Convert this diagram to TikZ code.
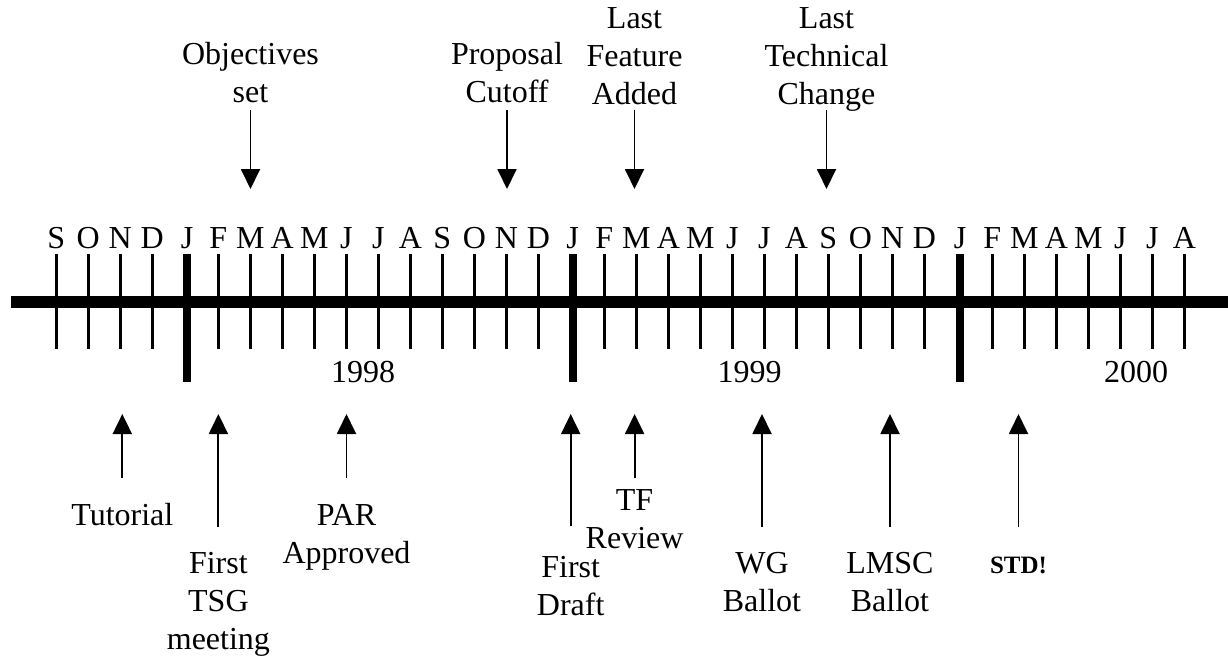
\documentclass[tikz,border=0pt]{standalone}
\usepackage{fontspec}
\setmainfont{Liberation Serif}
\usepackage{xcolor}
\usepackage{tikz}
\usetikzlibrary{arrows.meta, positioning}
\newcommand{\upstrut}{\rule{0pt}{24pt}}
\newcommand{\dnstrut}{\rule[-7pt]{0pt}{7pt}}

\begin{document}
\begin{tikzpicture}[
    x=1pt, y=-1pt,
    txt/.style={font=\fontsize{32}{38}\selectfont, align=center, inner sep=0pt},
    monthtick/.style={line width=3pt},
    yeartick/.style={line width=8pt},
    arrow/.style={-{Triangle[length=20pt, width=19pt]}, line width=1.9pt}
]
    \useasboundingbox (0,0) rectangle (1228,658);

    % Time axis
    \draw[line width=11.5pt] (11,302) -- (1228,302);
    \foreach \xx/\mm [count=\i] in {56.3/S, 88.3/O, 120.3/N, 152.3/D, 187/J, 218.3/F,
        250.3/M, 282.3/A, 314.3/M, 346.3/J, 378.3/J, 410.3/A, 442.3/S, 474.3/O,
        506.3/N, 538.3/D, 572.7/J, 604.3/F, 636.3/M, 668.3/A, 700.3/M, 732.3/J,
        764.3/J, 796.3/A, 828.3/S, 860.3/O, 892.3/N, 924.3/D, 960/J, 992.3/F,
        1024.3/M, 1056.3/A, 1088.3/M, 1120.3/J, 1152.3/J, 1184.3/A} {
        \draw[monthtick] (\xx,254) -- (\xx,349);
        \node[txt, anchor=base] (mon\i) at (\xx,248) {\mm};
    }
    \foreach \xx in {187, 572.7, 960}
        \draw[yeartick] (\xx,254) -- (\xx,382);

    % Years
    \node[txt, anchor=base] (y1998) at (363,382) {1998};
    \node[txt, anchor=base] (y1999) at (749.5,382) {1999};
    \node[txt, anchor=base] (y2000) at (1136,382) {2000};

    % Milestones above the axis
    \node[txt, anchor=south] (objset) at (250.5,110) {Objectives\\set\dnstrut};
    \node[txt, anchor=south] (cutoff) at (507,110) {Proposal\\Cutoff\dnstrut};
    \node[txt, anchor=south] (feature) at (634.5,112) {Last\\Feature\\Added\dnstrut};
    \node[txt, anchor=south] (techchg) at (826.5,112) {Last\\Technical\\Change\dnstrut};

    \coordinate (objtip) at (250.5,189);
    \coordinate (cutofftip) at (507,189);
    \coordinate (featuretip) at (634.5,189);
    \coordinate (techchgtip) at (826.5,189);

    % Milestones below the axis
    \node[txt, anchor=north] (tutorial) at (122.3,501) {\upstrut Tutorial};
    \node[txt, anchor=north] (firsttsg) at (218.4,549) {\upstrut First\\TSG\\meeting};
    \node[txt, anchor=north] (parok) at (346.5,501) {\upstrut PAR\\Approved};
    \node[txt, anchor=north] (draft) at (570.7,553) {\upstrut First\\Draft};
    \node[txt, anchor=north] (tfreview) at (634.6,486) {\upstrut TF\\Review};
    \node[txt, anchor=north] (wgballot) at (762,549) {\upstrut WG\\Ballot};
    \node[txt, anchor=north] (lmscballot) at (890,549) {\upstrut LMSC\\Ballot};
    \node[txt, anchor=north, font=\bfseries\fontsize{25}{30}\selectfont] (stddone) at (1018.5,549) {\upstrut STD!};

    \coordinate (tutorialtip) at (122.3,414);
    \coordinate (firsttsgtip) at (218.4,414);
    \coordinate (parroktip) at (346.5,414);
    \coordinate (drafttip) at (570.7,414);
    \coordinate (tfreviewtip) at (634.6,414);
    \coordinate (wgballottip) at (762,414);
    \coordinate (lmscballottip) at (890,414);
    \coordinate (stddonetip) at (1018.5,414);

    % Arrows
    \draw[arrow] (objset) -- (objtip);
    \draw[arrow] (cutoff) -- (cutofftip);
    \draw[arrow, shorten <=-2pt] (feature) -- (featuretip);
    \draw[arrow, shorten <=-2pt] (techchg) -- (techchgtip);
    \draw[arrow, shorten <=23pt] (tutorial) -- (tutorialtip);
    \draw[arrow, shorten <=22pt] (firsttsg) -- (firsttsgtip);
    \draw[arrow, shorten <=23pt] (parok) -- (parroktip);
    \draw[arrow, shorten <=27pt] (draft) -- (drafttip);
    \draw[arrow, shorten <=8pt] (tfreview) -- (tfreviewtip);
    \draw[arrow, shorten <=22pt] (wgballot) -- (wgballottip);
    \draw[arrow, shorten <=22pt] (lmscballot) -- (lmscballottip);
    \draw[arrow, shorten <=22pt] (stddone) -- (stddonetip);
\end{tikzpicture}
\end{document}
